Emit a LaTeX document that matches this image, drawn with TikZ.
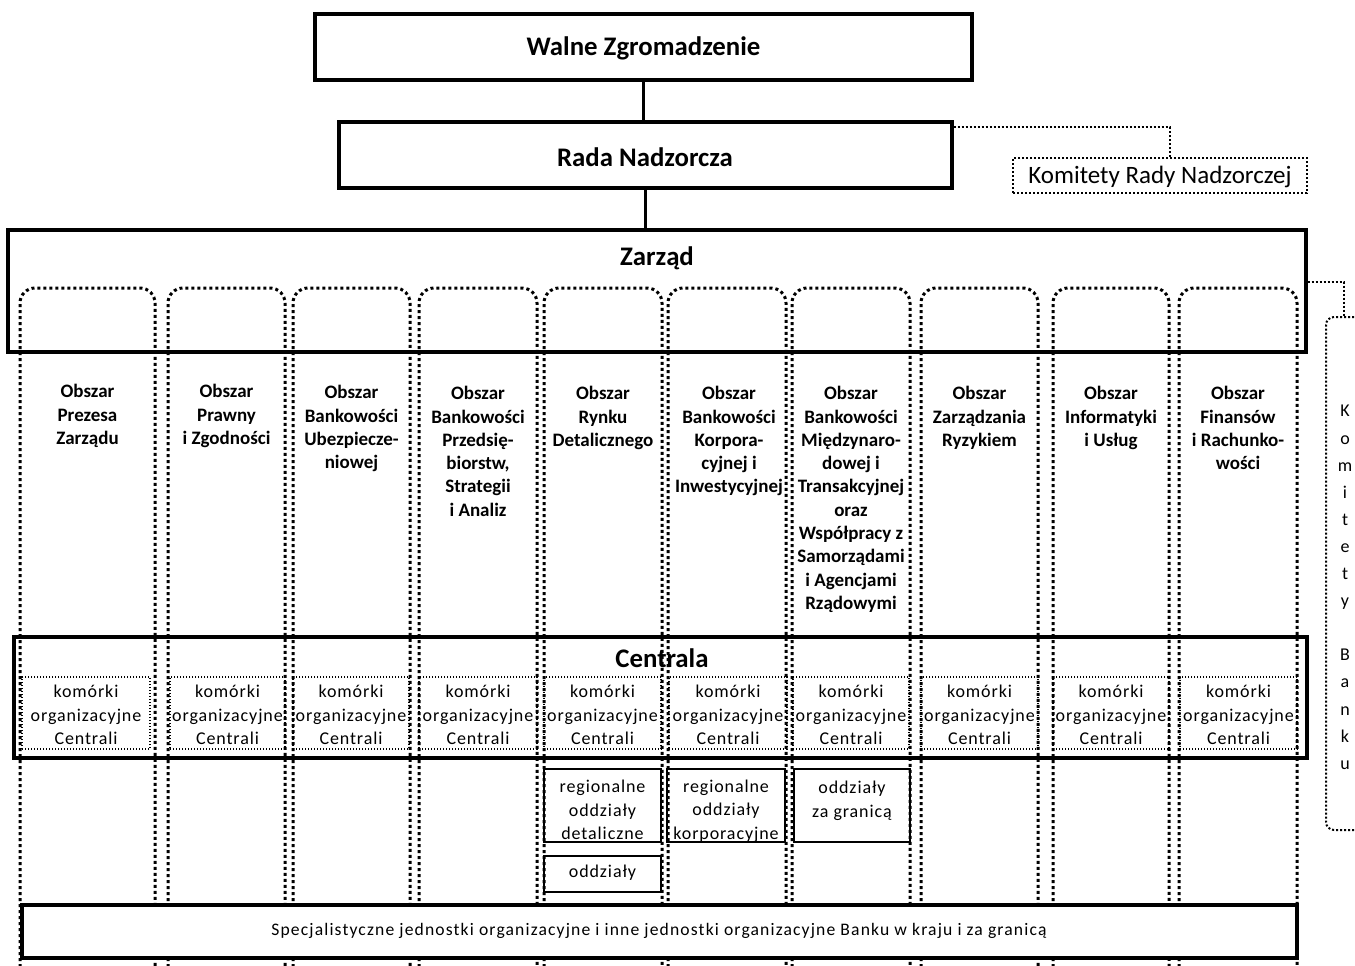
\documentclass[tikz,border=0pt]{standalone}
\usepackage{fontspec}
\setmainfont{Carlito}
\usetikzlibrary{calc,fit}
\newcommand{\komfont}{\fontsize{9}{11.75}\selectfont\addfontfeatures{LetterSpace=5}}
\begin{document}
\begin{tikzpicture}[x=0.5pt,y=-0.5pt,
  mainbox/.style={draw, line width=1.6pt, inner sep=0pt},
  titletext/.style={font=\fontsize{13.4}{15}\selectfont\bfseries, inner sep=0pt},
  solidconn/.style={line width=1.6pt},
  dotconn/.style={line width=1pt, dash pattern=on 1pt off 1pt},
  dotbox/.style={draw, line width=1pt, dash pattern=on 1pt off 1pt, inner sep=0pt},
  colpath/.style={line width=1.5pt, dash pattern=on 1.5pt off 1.5pt, rounded corners=7.5pt},
  kombox/.style={draw, line width=0.6pt, dash pattern=on 0.6pt off 0.9pt, inner sep=0pt},
  regbox/.style={draw, line width=1pt, inner sep=0pt},
  boxtext/.style={align=center, font=\komfont, inner sep=0pt},
  oblabel/.style={align=center, font=\fontsize{9.5}{11.65}\selectfont\bfseries, inner sep=0pt, anchor=north},
]
\clip (0,0) rectangle (1355,965);
% columns (Obszary)
\foreach \a/\b in {20/155,168/285,293/410,419/537,544/662,668/786,792/910,921/1038,1053/1169,1179/1297}
  \draw[colpath] (\a,985) -- (\a,288) -- (\b,288) -- (\b,985);

\node (walne) [mainbox, fit={(315,14) (972,80)}] {};
\node (walnet) [titletext] at (643.5,48) {Walne Zgromadzenie};
\node (rada) [mainbox, fit={(339,122) (952,188)}] {};
\node (radat) [titletext] at (645,157) {Rada Nadzorcza};
\node (krn) [dotbox, fit={(1013,158) (1307,193)}] {};
\node (krnt) [font=\fontsize{12.5}{15}\selectfont, inner sep=0pt] at (1160,177) {Komitety Rady Nadzorczej};
\node (zarzad) [mainbox, fit={(8,230) (1306,352)}] {};
\node (zarzadt) [titletext] at (657,258) {Zarząd};
\node (centrala) [mainbox, fit={(14,637) (1307,758)}] {};
\node (centralat) [titletext] at (662,658) {Centrala};

\draw[solidconn] (walne.south) -- (walne.south |- rada.north);
\draw[solidconn] (rada.south) -- (rada.south |- zarzad.north);
\draw[dotconn] ($(rada.north east)+(0,7)$) -| ($(krn.north)+(10,0)$);

% Komitety Banku
\node (kb) [dotbox, rounded corners=4pt, fit={(1326,317) (1362,830)}] {};
\node (kbt) [align=center, font=\fontsize{9}{13.55}\selectfont, inner sep=0pt, anchor=north] at (1345,405)
  {K\\o\\m\\i\\t\\e\\t\\y\\\mbox{}\\B\\a\\n\\k\\u};
\draw[dotconn] ($(zarzad.east)+(0,-9)$) -| (kb.north);

% Obszar labels
\node (o1) [oblabel] at (87.5,384) {Obszar\\Prezesa\\Zarządu};
\node (o2) [oblabel] at (226.5,384) {Obszar\\Prawny\\i Zgodności};
\node (o3) [oblabel] at (351.5,385) {Obszar\\Bankowości\\Ubezpiecze-\\niowej};
\node (o4) [oblabel] at (478,386) {Obszar\\Bankowości\\Przedsię-\\biorstw,\\Strategii\\i Analiz};
\node (o5) [oblabel] at (603,386) {Obszar\\Rynku\\Detalicznego};
\node (o6) [oblabel] at (729,386) {Obszar\\Bankowości\\Korpora-\\cyjnej i\\Inwestycyjnej};
\node (o7) [oblabel] at (851,386) {Obszar\\Bankowości\\Międzynaro-\\dowej i\\Transakcyjnej\\oraz\\Współpracy z\\Samorządami\\i Agencjami\\Rządowymi};
\node (o8) [oblabel] at (979.5,386) {Obszar\\Zarządzania\\Ryzykiem};
\node (o9) [oblabel] at (1111,386) {Obszar\\Informatyki\\i Usług};
\node (o10) [oblabel] at (1238,386) {Obszar\\Finansów\\i Rachunko-\\wości};

% komorki organizacyjne Centrali
\foreach \n/\a/\b in {1/22/150,2/170/285,3/293/409,4/419/537,5/544/661,6/669/787,7/793/909,8/921/1038,9/1053/1169,10/1180/1297}{
  \node (k\n) [kombox, fit={(\a,677) (\b,749)}] {};
  \node (kt\n) [boxtext] at ($(k\n.center)+(0,2)$) {komórki\\organizacyjne\\Centrali};
}

% regional units
\node (r5) [regbox, fit={(544,769) (661,842)}] {};
\node (rt5) [boxtext] at (602.5,810) {regionalne\\oddziały\\detaliczne};
\node (r6) [regbox, fit={(667,769) (785,842)}] {};
\node (rt6) [boxtext] at (726,811) {regionalne\\oddziały\\korporacyjne};
\node (r7) [regbox, fit={(794,769) (910,842)}] {};
\node (rt7) [boxtext] at (852,801) {oddziały\\za granicą};
\node (od) [regbox, fit={(544,856) (661,892)}] {};
\node (odt) [boxtext] at (602.5,873) {oddziały};

\node (spec) [mainbox, fill=white, fit={(22,905) (1297,958)}] {};
\node (spect) [font=\fontsize{8.8}{10}\selectfont\addfontfeatures{LetterSpace=6.5}, inner sep=0pt] at (659,931)
  {Specjalistyczne jednostki organizacyjne i inne jednostki organizacyjne Banku w kraju i za granicą};
\end{tikzpicture}
\end{document}
